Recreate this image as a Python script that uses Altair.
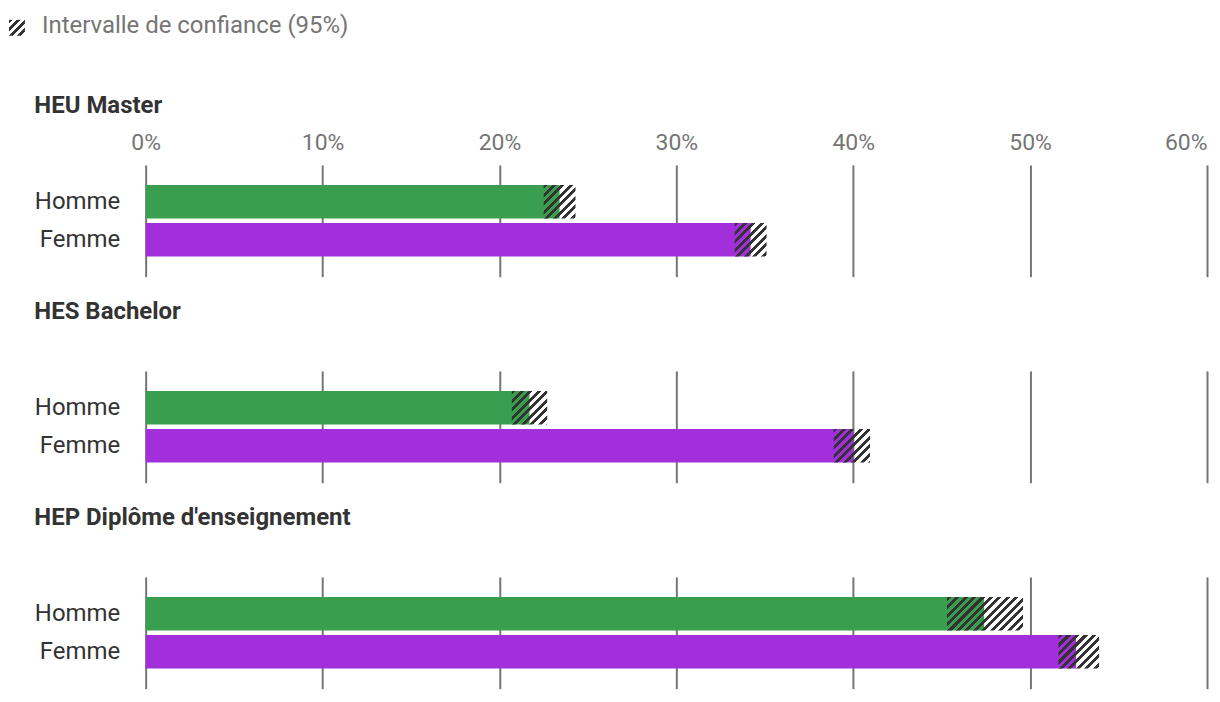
import altair as alt
import pandas as pd

# ---- data ----
diplomes = ["HEU Master", "HES Bachelor", "HEP Diplôme d'enseignement"]
sexes = ["Homme", "Femme"]
valeurs = [23.4, 34.2, 21.7, 40.0, 47.4, 52.6]   # estimate (%)
bas = [22.5, 33.3, 20.7, 38.9, 45.3, 51.6]       # lower CI bound (%)
haut = [24.3, 35.1, 22.7, 40.95, 49.6, 53.9]     # upper CI bound (%)
ticks_x = [0, 10, 20, 30, 40, 50, 60]
couleurs = ["#399F4F", "#A22FDB"]
legende = "Intervalle de confiance (95%)"

# ---- layout / style ----
W = 1064
H = 112
XMAX = 60
PX = W / XMAX
PI, PO = 0.12, 0.53
BAR_H = H / (2 - PI + 2 * PO) * (1 - PI)
GRAY = "#757575"
DARK = "#333333"

rows = []
for i, d in enumerate(diplomes):
    for j, s in enumerate(sexes):
        k = i * 2 + j
        rows.append(dict(diplome=d, sexe=s, valeur=valeurs[k], bas=bas[k], haut=haut[k]))
df = pd.DataFrame(rows)


def hatch(w, h, period=8.5, dark=0.48, color=DARK):
    """Diagonal '/' stripes via a hard-stop linear gradient (bbox units)."""
    span = w + h
    n = span / period
    k = span / (w * w + h * h)
    clear = "rgba(255,255,255,0)"
    stops = []
    i = 0
    while i < n:
        a = i / n
        b = min((i + dark) / n, 1)
        c = min((i + 1) / n, 1)
        stops += [
            {"offset": a, "color": color},
            {"offset": b, "color": color},
            {"offset": b, "color": clear},
            {"offset": c, "color": clear},
        ]
        i += 1
    return {"gradient": "linear", "x1": 0, "y1": 0, "x2": k * w, "y2": k * h, "stops": stops}


xscale = alt.Scale(domain=[0, XMAX], nice=False, zero=True)
yscale = alt.Scale(domain=sexes, paddingInner=PI, paddingOuter=PO)
noview = alt.ViewBackground(stroke="transparent", strokeWidth=0)


def panel(i, d):
    sub = df[df.diplome == d]
    xaxis = alt.Axis(
        orient="top", values=ticks_x, labelExpr="datum.value + '%'", grid=True,
        domain=False, ticks=False, labelFontSize=23, labelColor=GRAY,
        labelPadding=10, labelOpacity=1 if i == 0 else 0, gridColor=GRAY,
        gridWidth=2, title=None,
        labelAlign={"condition": {"test": "datum.value >= 60", "value": "right"}, "value": "center"},
    )
    yaxis = alt.Axis(title=None, domain=False, ticks=False, labelFontSize=24,
                     labelColor=DARK, labelPadding=26)
    bars = alt.Chart(sub).mark_bar().encode(
        x=alt.X("valeur:Q", scale=xscale, axis=xaxis),
        y=alt.Y("sexe:N", scale=yscale, sort=sexes, axis=yaxis),
        color=alt.Color("sexe:N", scale=alt.Scale(domain=sexes, range=couleurs), legend=None),
    )
    layers = [bars]
    for j, s in enumerate(sexes):
        k = i * 2 + j
        w = (haut[k] - bas[k]) * PX
        layers.append(
            alt.Chart(sub).transform_filter(alt.datum.sexe == s)
            .mark_bar(fill=hatch(w, BAR_H))
            .encode(
                x=alt.X("bas:Q", scale=xscale, axis=xaxis),
                x2="haut:Q",
                y=alt.Y("sexe:N", scale=yscale, sort=sexes, axis=yaxis),
            )
        )
    return alt.layer(*layers).properties(
        width=W, height=H, view=noview,
        title=alt.TitleParams(d, anchor="start", frame="bounds", fontSize=24,
                              fontWeight="bold", color=DARK, offset=14),
    )


leg_df = pd.DataFrame({"label": [legende]})
icon = alt.Chart(leg_df).mark_rect(fill=hatch(16, 16, period=8)).encode(
    x=alt.value(-137), x2=alt.value(-121), y=alt.value(0), y2=alt.value(16)
)
txt = alt.Chart(leg_df).mark_text(
    align="left", baseline="alphabetic", fontSize=24, color=GRAY
).encode(x=alt.value(-104), y=alt.value(13), text="label:N")
legend_chart = alt.layer(icon, txt).properties(width=W, height=50.5, view=noview)

panels = [panel(i, d) for i, d in enumerate(diplomes)]

chart = (
    alt.vconcat(legend_chart, *panels, spacing=23.5)
    .properties(padding={"left": 1, "top": 5, "right": 5, "bottom": 0})
    .configure_view(stroke="transparent", strokeWidth=0)
    .configure(font="Roboto")
)

chart.save("out.html", embed_options={"renderer": "svg", "actions": False})
